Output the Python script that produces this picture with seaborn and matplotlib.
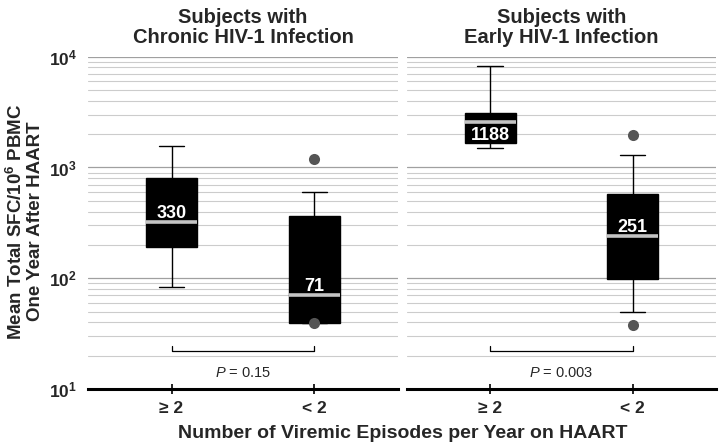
import numpy as np
import pandas as pd
import matplotlib
matplotlib.use('Agg')
import matplotlib.pyplot as plt
import seaborn as sns

# -----------------------------------------------------------
# DATA
# -----------------------------------------------------------

GROUPS = ['≥ 2', '< 2']
TITLES = ['Subjects with\nChronic HIV-1 Infection',
          'Subjects with\nEarly HIV-1 Infection']

# low whisker, q1, median, q3, high whisker
chronic_ge2 = [83, 191, 323, 811, 1550]
chronic_lt2 = [39, 39, 71, 366, 605]
early_ge2 = [1490, 1650, 2560, 3100, 8300]
early_lt2 = [49, 98, 241, 580, 1290]

# outlier dots, only the "< 2" groups have them
chronic_outliers = [1200, 39]
early_outliers = [1950, 38]

# numbers printed on the boxes
chronic_labels = ['330', '71']
early_labels = ['1188', '251']
label_above = [[True, True], [False, True]]

p_values = ['0.15', '0.003']
bracket_y = 22
p_text_y = 14

# -----------------------------------------------------------
# STYLE
# -----------------------------------------------------------

sns.set_style('white')
plt.rcParams['font.family'] = ['Liberation Sans', 'DejaVu Sans']
plt.rcParams['mathtext.fontset'] = 'custom'
plt.rcParams['mathtext.rm'] = 'Liberation Sans'
plt.rcParams['mathtext.it'] = 'Liberation Sans:italic'
plt.rcParams['mathtext.bf'] = 'Liberation Sans:bold'
plt.rcParams['mathtext.default'] = 'bf'

fig = plt.figure(figsize=(7.21, 4.47), dpi=100)
ax1 = fig.add_axes([0.122, 0.130, 0.430, 0.743])
ax2 = fig.add_axes([0.5645, 0.130, 0.4285, 0.743])

panels = [
    (ax1, [chronic_ge2, chronic_lt2], chronic_outliers, chronic_labels),
    (ax2, [early_ge2, early_lt2], early_outliers, early_labels),
]

for i, (ax, stats, outliers, labels) in enumerate(panels):
    ax.set_yscale('log')

    df = pd.DataFrame({
        'group': np.repeat(GROUPS, 5),
        'value': stats[0] + stats[1],
    })
    df_out = pd.DataFrame({'group': GROUPS[1], 'value': outliers})

    sns.boxplot(
        data=df, x='group', y='value', order=GROUPS,
        width=0.36, whis=(0, 100), showfliers=False,
        color='black', linecolor='black', linewidth=1,
        boxprops=dict(facecolor='black'),
        medianprops=dict(color='#c4c4c4', linewidth=2.6),
        ax=ax
    )
    sns.stripplot(
        data=df_out, x='group', y='value', order=GROUPS,
        jitter=False, color='#555555', size=8, zorder=5, ax=ax
    )

    # numbers on the medians
    for j, txt in enumerate(labels):
        med = stats[j][2]
        if label_above[i][j]:
            ax.annotate(txt, (j, med), xytext=(0, 2.5), textcoords='offset points',
                        ha='center', va='baseline', color='white',
                        fontsize=13, fontweight='bold', zorder=6)
        else:
            ax.annotate(txt, (j, med), xytext=(0, -3.5), textcoords='offset points',
                        ha='center', va='top', color='white',
                        fontsize=13, fontweight='bold', zorder=6)

    # significance bracket
    ax.plot([0, 0, 1, 1], [bracket_y * 1.12, bracket_y, bracket_y, bracket_y * 1.12],
            color='black', lw=0.9)
    ax.text(0.5, p_text_y, r'$\mathit{P}$ = ' + p_values[i],
            ha='center', va='center', fontsize=10.5)

    ax.set_ylim(10, 10000)
    ax.set_xlim(-0.585, 1.585)
    ax.set_xlabel('')
    ax.set_ylabel('')
    ax.set_title(TITLES[i], fontsize=14.5, fontweight='bold', pad=10, linespacing=1.05)

    ax.yaxis.grid(True, which='major', color='#a0a0a0', lw=0.9)
    ax.yaxis.grid(True, which='minor', color='#cccccc', lw=0.8)
    ax.xaxis.grid(False)
    ax.set_axisbelow(True)

    for s in ['top', 'right', 'left']:
        ax.spines[s].set_visible(False)
    ax.spines['bottom'].set_color('black')
    ax.spines['bottom'].set_linewidth(2.2)

    ax.tick_params(axis='x', which='both', bottom=True, direction='inout',
                   length=7, width=1.2, color='black', labelsize=12.5, pad=5)
    ax.tick_params(axis='y', which='both', left=False, length=0)
    for lab in ax.get_xticklabels():
        lab.set_fontweight('bold')

    ax.set_yticks([10, 100, 1000, 10000])
    if i == 0:
        ax.set_yticklabels([r'$\mathbf{10^{1}}$', r'$\mathbf{10^{2}}$',
                            r'$\mathbf{10^{3}}$', r'$\mathbf{10^{4}}$'],
                           fontsize=12.5)
        ax.tick_params(axis='y', pad=8)
    else:
        ax.set_yticklabels([])

fig.text(0.035, 0.505, 'Mean Total SFC/10$^6$ PBMC\nOne Year After HAART',
         rotation=90, ha='center', va='center', fontsize=13.5,
         fontweight='bold', linespacing=1.05)
fig.text(0.558, 0.030, 'Number of Viremic Episodes per Year on HAART',
         ha='center', va='center', fontsize=14, fontweight='bold')

plt.savefig('out.png', dpi=100)
